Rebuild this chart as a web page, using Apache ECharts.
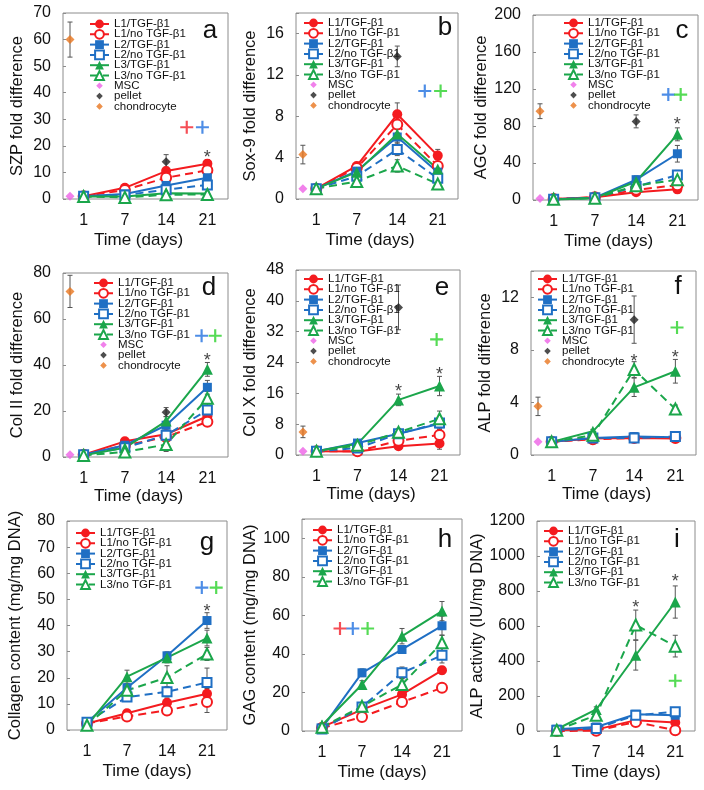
<!DOCTYPE html>
<html>
<head>
<meta charset="utf-8">
<script src="https://cdn.jsdelivr.net/npm/echarts@6/dist/echarts.min.js"></script>
<style>
html, body { margin: 0; padding: 0; background: #fff; }
#main { width: 704px; height: 790px; }
</style>
</head>
<body>
<div id="main"></div>
<script>
// tick labels of the time axis and the series names
var days = ['1', '7', '14', '21'];
var groupNames = ['L1/TGF-β1', 'L1/no TGF-β1', 'L2/TGF-β1', 'L2/no TGF-β1', 'L3/TGF-β1', 'L3/no TGF-β1'];
var refNames = ['MSC', 'pellet', 'chondrocyte'];

// a - SZP fold difference (rows follow groupNames, columns follow days)
var szpMean = [[1.0, 4.2, 10.5, 13.3], [1.0, 3.4, 8.0, 10.8], [1.0, 1.9, 5.1, 8.0],
               [1.0, 1.5, 3.5, 5.3], [0.9, 0.9, 2.2, 2.1], [0.9, 0.6, 1.6, 1.7]];
var szpErr = [[0.3, 0.6, 1.5, 1.5], [0.3, 0.5, 1.2, 1.5], [0.2, 0.4, 1.0, 1.2],
              [0.2, 0.3, 0.8, 0.8], [0.2, 0.3, 0.5, 0.5], [0.2, 0.2, 0.4, 0.4]];
var szpRef = [1, 14.0, 60];      // MSC, pellet (day 14), chondrocyte
var szpRefErr = [0, 2.7, 6.6];
var szpPlus = [[2.5, 27, 0], [2.88, 27, 1]];   // [x, y, colour group]
var szpStar = [[3, 17]];

// b - Sox-9 fold difference
var soxMean = [[1.0, 3.2, 8.2, 4.2], [1.0, 3.0, 7.2, 3.2], [1.0, 2.7, 6.0, 2.6],
               [1.0, 2.2, 4.8, 2.0], [1.0, 2.6, 6.3, 2.9], [1.0, 1.7, 3.2, 1.45]];
var soxErr = [[0.1, 0.3, 1.1, 0.6], [0.1, 0.3, 0.8, 0.6], [0.1, 0.3, 0.8, 0.5],
              [0.1, 0.3, 0.6, 0.5], [0.1, 0.3, 0.8, 0.5], [0.1, 0.2, 0.6, 0.5]];
var soxRef = [1, 13.8, 4.3];
var soxRefErr = [0, 1.0, 0.9];
var soxPlus = [[2.68, 10.45, 1], [3.07, 10.45, 2]];
var soxStar = [];

// c - AGC fold difference
var agcMean = [[1, 3, 8.5, 11.5], [1, 3, 11, 16], [0.8, 2.5, 22, 50],
               [0.8, 2.5, 14.5, 27], [0.5, 2, 20, 71], [0.8, 2, 15.5, 22]];
var agcErr = [[0.5, 1, 3, 4], [0.5, 1, 3, 4], [0.5, 1, 4, 9],
              [0.5, 1, 3, 5], [0.5, 1, 5, 7], [0.5, 1, 3, 5]];
var agcRef = [1.5, 85, 96];
var agcRefErr = [0, 7, 8];
var agcPlus = [[2.78, 114, 1], [3.08, 114, 2]];
var agcStar = [[3, 85]];

// d - Col II fold difference
var col2Mean = [[1, 6.8, 9.9, 17.7], [1, 5.0, 8.7, 15.3], [1, 5.1, 13.8, 30.3],
                [1, 4.0, 9.5, 20.4], [0.7, 4.0, 15.6, 38.1], [0.7, 2.2, 5.4, 25.5]];
var col2Err = [[0.3, 1, 1.5, 2], [0.3, 0.8, 1.5, 1.5], [0.3, 1, 2, 3],
               [0.3, 0.8, 2, 2], [0.3, 1, 2, 3], [0.3, 0.8, 3, 3]];
var col2Ref = [1, 19.5, 72];
var col2RefErr = [0, 2, 7];
var col2Plus = [[2.86, 52.7, 1], [3.19, 52.7, 2]];
var col2Star = [[3, 43.6]];

// e - Col X fold difference
var col10Mean = [[1, 0.9, 2.3, 3.0], [1, 1.0, 3.7, 5.2], [1, 3.1, 5.5, 8.1],
                 [1, 1.8, 5.5, 8.3], [1, 2.9, 14.3, 17.9], [1, 2.5, 5.9, 9.4]];
var col10Err = [[0.2, 0.5, 0.8, 1.5], [0.2, 0.5, 0.8, 1], [0.2, 0.5, 1, 1.5],
                [0.2, 0.5, 1, 1.5], [0.2, 0.5, 1.5, 2.5], [0.2, 0.5, 1, 2]];
var col10Ref = [1, 38.3, 6];
var col10RefErr = [0, 5.8, 1.5];
var col10Plus = [[2.93, 30, 2]];
var col10Star = [[2, 17.4], [3, 21.7]];

// f - ALP fold difference
var alpMean = [[1, 1.25, 1.3, 1.25], [1, 1.2, 1.3, 1.3], [1, 1.3, 1.4, 1.35],
               [1, 1.3, 1.3, 1.4], [1, 1.8, 5.15, 6.37], [1, 1.5, 6.5, 3.5]];
var alpErr = [[0.05, 0.1, 0.15, 0.3], [0.05, 0.1, 0.15, 0.2], [0.05, 0.1, 0.2, 0.2],
              [0.05, 0.1, 0.15, 0.2], [0.05, 0.15, 0.7, 0.9], [0.05, 0.15, 0.6, 0.3]];
var alpRef = [1, 10.3, 3.7];
var alpRefErr = [0, 1.8, 0.7];
var alpPlus = [[3.04, 9.7, 2]];
var alpStar = [[2, 7.35], [3, 7.7]];

// g - collagen content (mg/mg DNA)
var collMean = [[2.5, 6.4, 10.4, 13.9], [2.5, 5.2, 7.5, 10.7], [3.0, 16.2, 28.4, 41.9],
                [3.0, 12.6, 14.6, 18.2], [1.8, 20.4, 27.7, 35.2], [1.8, 15.2, 20.1, 29.1]];
var collErr = [[0.5, 1, 1.5, 2], [0.5, 1, 1, 4], [0.5, 1.5, 1.5, 3],
               [0.5, 1.5, 2, 5.5], [0.5, 2.5, 2, 3], [0.5, 2, 4.5, 2.5]];
var collPlus = [[2.87, 54.5, 1], [3.23, 54.5, 2]];
var collStar = [[3, 46.8]];

// h - GAG content (mg/mg DNA)
var gagMean = [[2, 11.1, 19, 31.5], [1.5, 7.3, 15, 22.4], [1.5, 30.2, 42.3, 54.6],
               [1, 12.5, 30.2, 39.3], [3, 24.1, 49.2, 62.2], [2, 12.8, 24.1, 45.8]];
var gagErr = [[0.5, 1, 1.5, 2], [0.5, 1.5, 1.5, 1.5], [0.5, 2, 2, 5],
              [0.5, 1.5, 3, 4], [0.5, 2, 4, 5], [0.5, 1.5, 3, 4]];
var gagPlus = [[0.45, 53.2, 0], [0.77, 53.2, 1], [1.14, 53.2, 2]];
var gagStar = [];

// i - ALP activity (IU/mg DNA)
var alpActMean = [[5, 8, 62, 48], [0, 2, 52, 4], [10, 23, 96, 90],
                  [5, 15, 90, 110], [10, 123, 433, 737], [5, 90, 606, 485]];
var alpActErr = [[3, 5, 10, 15], [3, 5, 10, 5], [3, 10, 15, 20],
                 [3, 10, 15, 20], [5, 15, 85, 92], [5, 15, 85, 62]];
var alpActPlus = [[3.0, 287, 2]];
var alpActStar = [[2, 725], [3, 873]];

var FONT = '"Liberation Sans", Arial, sans-serif';
var lineColors = ['#f41b1f', '#f41b1f', '#1f6fc4', '#1f6fc4', '#1ba64b', '#1ba64b'];
var symbols = ['circle', 'emptyCircle', 'rect', 'emptyRect', 'triangle', 'emptyTriangle'];
var symbolSizes = [10, 10, 9, 9, 11, 11];
var plusColors = ['#f2222c', '#2070e0', '#2bd22b'];
var refColors = ['#ee62e6', '#222222', '#e8761e'];
var PLUS = 'path://M5,0H7V5H12V7H7V12H5V7H0V5H5Z';
var DIAMOND = 'path://M5,0L10,5L5,10L0,5Z';
// same diamond with invisible corner specks so the legend draws it smaller
var DIAMOND_SMALL = 'path://M5,2L8,5L5,8L2,5ZM0,0h0.01v0.01h-0.01ZM10,10h-0.01v-0.01h0.01Z';
var REF_X = -0.33;

var panels = [
  { mean: szpMean, err: szpErr, ref: szpRef, refErr: szpRefErr, plus: szpPlus, star: szpStar,
    name: 'SZP fold difference', letter: 'a', box: [63, 13, 165, 186], max: 70, step: 10,
    leg: [89, 18], lp: [210, 31], row: 1 },
  { mean: soxMean, err: soxErr, ref: soxRef, refErr: soxRefErr, plus: soxPlus, star: soxStar,
    name: 'Sox-9 fold difference', letter: 'b', box: [296, 13, 162, 186], max: 18, step: 4,
    leg: [303, 17], lp: [445, 28], row: 1 },
  { mean: agcMean, err: agcErr, ref: agcRef, refErr: agcRefErr, plus: agcPlus, star: agcStar,
    name: 'AGC fold difference', letter: 'c', box: [533, 15, 165, 185], max: 200, step: 40,
    leg: [563, 17], lp: [682, 31], row: 1 },
  { mean: col2Mean, err: col2Err, ref: col2Ref, refErr: col2RefErr, plus: col2Plus, star: col2Star,
    name: 'Col II fold difference', letter: 'd', box: [63, 273, 165, 184], max: 80, step: 20,
    leg: [93, 277], lp: [209, 288], row: 2 },
  { mean: col10Mean, err: col10Err, ref: col10Ref, refErr: col10RefErr, plus: col10Plus, star: col10Star,
    name: 'Col X fold difference', letter: 'e', box: [296, 270, 164, 185], max: 48, step: 8,
    leg: [303, 273], lp: [442, 288], row: 2 },
  { mean: alpMean, err: alpErr, ref: alpRef, refErr: alpRefErr, plus: alpPlus, star: alpStar,
    name: 'ALP fold difference', letter: 'f', box: [531, 271, 165, 184], max: 14, step: 4,
    leg: [537, 273], lp: [678, 287], row: 2 },
  { mean: collMean, err: collErr, ref: null, plus: collPlus, star: collStar,
    name: 'Collagen content (mg/mg DNA)', letter: 'g', box: [67, 521, 160, 209], max: 80, step: 10,
    leg: [75, 527], lp: [207, 543], row: 3 },
  { mean: gagMean, err: gagErr, ref: null, plus: gagPlus, star: gagStar,
    name: 'GAG content (mg/mg DNA)', letter: 'h', box: [302, 519, 160, 212], max: 110, step: 20,
    leg: [312, 524], lp: [445, 540], row: 3 },
  { mean: alpActMean, err: alpActErr, ref: null, plus: alpActPlus, star: alpActStar,
    name: 'ALP activity (IU/mg DNA)', letter: 'i', box: [537, 521, 158, 210], max: 1200, step: 200,
    leg: [543, 525], lp: [677, 540], row: 3 }
];

function renderErr(params, api) {
  var x = api.value(0);
  var lo = Math.max(api.value(1), 0);
  var hi = api.value(2);
  var p1 = api.coord([x, lo]);
  var p2 = api.coord([x, hi]);
  var w = 2.5;
  var st = { stroke: '#555', lineWidth: 1 };
  return {
    type: 'group',
    children: [
      { type: 'line', shape: { x1: p1[0], y1: p1[1], x2: p2[0], y2: p2[1] }, style: st },
      { type: 'line', shape: { x1: p1[0] - w, y1: p1[1], x2: p1[0] + w, y2: p1[1] }, style: st },
      { type: 'line', shape: { x1: p2[0] - w, y1: p2[1], x2: p2[0] + w, y2: p2[1] }, style: st }
    ]
  };
}

var grids = [], xAxes = [], yAxes = [], legends = [], series = [], texts = [];

panels.forEach(function (p, k) {
  grids.push({
    left: p.box[0], top: p.box[1], width: p.box[2], height: p.box[3],
    show: true, borderColor: '#8c8c8c', borderWidth: 1, containLabel: false
  });
  xAxes.push({
    gridIndex: k, type: 'value', min: -0.5, max: 3.5,
    name: 'Time (days)', nameLocation: 'middle', nameGap: p.row === 2 ? 30 : 33,
    nameTextStyle: { fontSize: 17, fontFamily: FONT, color: '#111',
      padding: p.row === 3 ? 0 : [0, 14, 0, 0] },
    axisLine: { show: false, onZero: false }, axisTick: { show: false }, splitLine: { show: false },
    axisLabel: {
      customValues: [0, 1, 2, 3],
      formatter: function (v) { return days[Math.round(v)]; },
      fontSize: 16, margin: 14, color: '#111', fontFamily: FONT
    }
  });
  yAxes.push({
    gridIndex: k, type: 'value', min: 0, max: p.max, interval: p.step,
    name: p.name, nameLocation: 'middle', nameGap: p.row === 3 ? 43 : 37,
    nameTextStyle: { fontSize: 16.5, fontFamily: FONT, color: '#111' },
    axisLine: { show: false, onZero: false },
    axisTick: { show: true, inside: true, length: 3, lineStyle: { color: '#8c8c8c' } },
    splitLine: { show: false },
    axisLabel: {
      formatter: function (v) { return v % p.step === 0 ? String(v) : ''; },
      fontSize: 16, margin: 12, color: '#111', fontFamily: FONT
    }
  });

  var legNames = groupNames.slice();
  if (p.ref) {
    legNames = legNames.concat(refNames.map(function (n) { return { name: n, icon: DIAMOND_SMALL }; }));
  }
  legends.push({
    left: p.leg[0], top: p.leg[1], orient: 'vertical',
    itemWidth: 19, itemHeight: 11, itemGap: -1.7, padding: 0,
    selectedMode: false, symbolKeepAspect: true,
    lineStyle: { width: 2 },
    textStyle: { fontSize: 11.5, fontFamily: FONT, color: '#111' },
    data: legNames
  });

  // error bars
  var errData = [];
  p.mean.forEach(function (row, g) {
    row.forEach(function (v, i) {
      errData.push([i, v - p.err[g][i], v + p.err[g][i]]);
    });
  });
  if (p.ref) {
    errData.push([2, p.ref[1] - p.refErr[1], p.ref[1] + p.refErr[1]]);
    errData.push([REF_X, p.ref[2] - p.refErr[2], p.ref[2] + p.refErr[2]]);
  }
  series.push({
    type: 'custom', xAxisIndex: k, yAxisIndex: k, renderItem: renderErr,
    data: errData, z: 1, silent: true, encode: { x: 0, y: [1, 2] }
  });

  p.mean.forEach(function (row, g) {
    var dashed = g % 2 === 1;
    series.push({
      type: 'line', name: groupNames[g], xAxisIndex: k, yAxisIndex: k,
      data: row.map(function (v, i) { return [i, v]; }),
      symbol: symbols[g], symbolSize: symbolSizes[g],
      color: lineColors[g],
      lineStyle: { width: 2, color: lineColors[g], type: dashed ? [8, 5] : 'solid' },
      itemStyle: { color: lineColors[g], borderColor: lineColors[g], borderWidth: dashed ? 1.5 : 0 },
      z: 3, animation: false
    });
  });

  if (p.ref) {
    var refData = [[[REF_X, p.ref[0]]], [[2, p.ref[1]]], [[REF_X, p.ref[2]]]];
    refNames.forEach(function (n, r) {
      series.push({
        type: 'scatter', name: n, xAxisIndex: k, yAxisIndex: k,
        data: refData[r], symbol: DIAMOND, symbolSize: 9,
        itemStyle: { color: refColors[r] }, z: 4, animation: false
      });
    });
  }

  series.push({
    type: 'scatter', xAxisIndex: k, yAxisIndex: k, symbol: PLUS, symbolSize: 13,
    data: p.plus.map(function (d) {
      return { value: [d[0], d[1]], itemStyle: { color: plusColors[d[2]] } };
    }),
    z: 4, animation: false, silent: true
  });

  if (p.star.length) {
    series.push({
      type: 'scatter', xAxisIndex: k, yAxisIndex: k, symbolSize: 1,
      itemStyle: { color: 'rgba(0,0,0,0)' },
      label: { show: true, position: 'inside', formatter: '*', fontSize: 18,
        color: '#111', fontFamily: FONT, offset: [0, 4] },
      data: p.star, z: 4, animation: false, silent: true
    });
  }

  texts.push({
    type: 'text', x: p.lp[0], y: p.lp[1],
    style: { text: p.letter, fontSize: 26, fontFamily: FONT, fill: '#111',
      align: 'center', verticalAlign: 'middle' }
  });
});

var chart = echarts.init(document.getElementById('main'));
chart.setOption({
  animation: false,
  backgroundColor: '#fff',
  grid: grids,
  xAxis: xAxes,
  yAxis: yAxes,
  legend: legends,
  series: series,
  graphic: texts
});
</script>
</body>
</html>
